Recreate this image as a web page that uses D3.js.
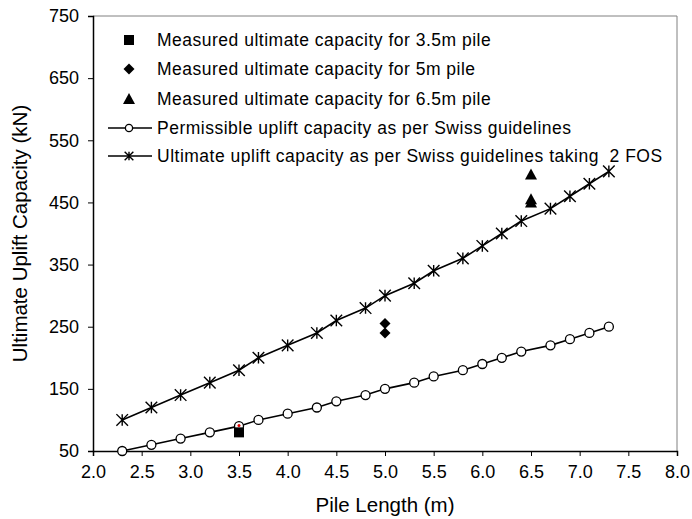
<!DOCTYPE html>
<html>
<head>
<meta charset="utf-8">
<script src="https://cdn.jsdelivr.net/npm/d3@7"></script>
<style>
  body { margin: 0; background: #fff; }
  svg { display: block; font-family: "Liberation Sans", Arial, sans-serif; }
  .legend text { white-space: pre; }
</style>
</head>
<body>
<svg id="chart" width="692" height="519"></svg>
<script>
// Pile lengths (m) used for the Swiss guideline curves
const pileLengths = [2.3, 2.6, 2.9, 3.2, 3.5, 3.7, 4.0, 4.3, 4.5, 4.8, 5.0, 5.3, 5.5, 5.8, 6.0, 6.2, 6.4, 6.7, 6.9, 7.1, 7.3];
// Permissible uplift capacity (kN)
const permissible = [50, 60, 70, 80, 90, 100, 110, 120, 130, 140, 150, 160, 170, 180, 190, 200, 210, 220, 230, 240, 250];
// Ultimate uplift capacity with FOS 2 (kN)
const ultimateFOS2 = [100, 120, 140, 160, 180, 200, 220, 240, 260, 280, 300, 320, 340, 360, 380, 400, 420, 440, 460, 480, 500];

// Measured ultimate capacities (kN)
const measured35 = [{ x: 3.5, y: 80 }];
const measured5 = [{ x: 5.0, y: 255 }, { x: 5.0, y: 240 }];
const measured65 = [{ x: 6.5, y: 495 }, { x: 6.5, y: 455 }, { x: 6.5, y: 450 }];

const xTicks = [2.0, 2.5, 3.0, 3.5, 4.0, 4.5, 5.0, 5.5, 6.0, 6.5, 7.0, 7.5, 8.0];
const yTicks = [50, 150, 250, 350, 450, 550, 650, 750];

const legendLabels = [
  "Measured ultimate capacity for 3.5m pile",
  "Measured ultimate capacity for 5m pile",
  "Measured ultimate capacity for 6.5m pile",
  "Permissible uplift capacity as per Swiss guidelines",
  "Ultimate uplift capacity as per Swiss guidelines taking  2 FOS"
];

const svg = d3.select("#chart");
const L = 93, R = 677, T = 16, B = 451;

const x = d3.scaleLinear().domain([2, 8]).range([L, R]);
const y = d3.scaleLinear().domain([50, 750]).range([B, T]);

// Plot frame: grey top and right edges
svg.append("line").attr("x1", L).attr("x2", R).attr("y1", T).attr("y2", T).attr("stroke", "#808080").attr("stroke-width", 1);
svg.append("line").attr("x1", R).attr("x2", R).attr("y1", T).attr("y2", B).attr("stroke", "#808080").attr("stroke-width", 1);

// Axes
const xAxis = svg.append("g").attr("transform", `translate(0,${B})`)
  .call(d3.axisBottom(x).tickValues(xTicks).tickFormat(d3.format(".1f")).tickSizeOuter(0).tickSize(5).tickPadding(9));
const yAxis = svg.append("g").attr("transform", `translate(${L},0)`)
  .call(d3.axisLeft(y).tickValues(yTicks).tickSizeOuter(0).tickSize(5).tickPadding(9));
[xAxis, yAxis].forEach(g => {
  g.selectAll("path.domain").attr("stroke", "#000").attr("stroke-width", 1.5);
  g.selectAll(".tick line").attr("stroke", "#000");
  g.selectAll(".tick text").attr("font-size", 18).attr("fill", "#000").attr("font-family", "Liberation Sans, Arial, sans-serif");
});

// Axis titles
svg.append("text").attr("x", (L + R) / 2).attr("y", 512).attr("text-anchor", "middle")
  .attr("font-size", 20.5).text("Pile Length (m)");
svg.append("text").attr("transform", `translate(27,${(T + B) / 2}) rotate(-90)`).attr("text-anchor", "middle")
  .attr("font-size", 20.5).text("Ultimate Uplift Capacity (kN)");

const line = d3.line().x(d => x(d[0])).y(d => y(d[1]));
const permData = pileLengths.map((v, i) => [v, permissible[i]]);
const ultData = pileLengths.map((v, i) => [v, ultimateFOS2[i]]);

const plot = svg.append("g");

// Marker drawers (k scales the marker size)
function star(g, cx, cy, k = 1) {
  const s = 5.8 * k;
  g.append("path")
    .attr("d", `M${cx - s},${cy - s}L${cx + s},${cy + s}M${cx - s},${cy + s}L${cx + s},${cy - s}M${cx},${cy - s}L${cx},${cy + s}`)
    .attr("stroke", "#000").attr("stroke-width", 1.4).attr("fill", "none");
}
function circle(g, cx, cy, k = 1) {
  g.append("circle").attr("cx", cx).attr("cy", cy).attr("r", 4.5 * k)
    .attr("fill", "#fff").attr("stroke", "#000").attr("stroke-width", 1.3);
}
function square(g, cx, cy) {
  g.append("rect").attr("x", cx - 5).attr("y", cy - 5).attr("width", 10).attr("height", 10).attr("fill", "#000");
}
function diamond(g, cx, cy) {
  const s = 5.5;
  g.append("path").attr("d", `M${cx},${cy - s}L${cx + s},${cy}L${cx},${cy + s}L${cx - s},${cy}Z`).attr("fill", "#000");
}
function triangle(g, cx, cy) {
  g.append("path").attr("d", `M${cx},${cy - 6}L${cx + 6},${cy + 5}L${cx - 6},${cy + 5}Z`).attr("fill", "#000");
}

// Ultimate (FOS 2) line with star markers
plot.append("path").datum(ultData).attr("d", line).attr("fill", "none").attr("stroke", "#000").attr("stroke-width", 1.6);
ultData.forEach(d => star(plot, x(d[0]), y(d[1])));

// Permissible line with circle markers
plot.append("path").datum(permData).attr("d", line).attr("fill", "none").attr("stroke", "#000").attr("stroke-width", 1.6);
permData.forEach(d => circle(plot, x(d[0]), y(d[1])));

// Measured points
measured35.forEach(d => square(plot, x(d.x), y(d.y)));
plot.append("circle").attr("cx", x(3.5)).attr("cy", y(91)).attr("r", 1.5).attr("fill", "#e00000");
measured5.forEach(d => diamond(plot, x(d.x), y(d.y)));
measured65.forEach(d => triangle(plot, x(d.x), y(d.y)));

// Legend
const legend = svg.append("g").attr("class", "legend");
const rowY = [40, 69, 99, 128, 156];
const mx = 129, tx = 157;
square(legend, mx, rowY[0]);
diamond(legend, mx, rowY[1]);
triangle(legend, mx, rowY[2]);
legend.append("line").attr("x1", 108).attr("x2", 152).attr("y1", rowY[3]).attr("y2", rowY[3]).attr("stroke", "#000").attr("stroke-width", 1.4);
circle(legend, mx, rowY[3], 0.8);
legend.append("line").attr("x1", 108).attr("x2", 152).attr("y1", rowY[4]).attr("y2", rowY[4]).attr("stroke", "#000").attr("stroke-width", 1.4);
star(legend, mx, rowY[4], 0.75);
legendLabels.forEach((t, i) => {
  legend.append("text").attr("x", tx).attr("y", rowY[i] + 6).attr("font-size", 17.5)
    .attr("letter-spacing", 0.5).attr("fill", "#000").text(t);
});
</script>
</body>
</html>
